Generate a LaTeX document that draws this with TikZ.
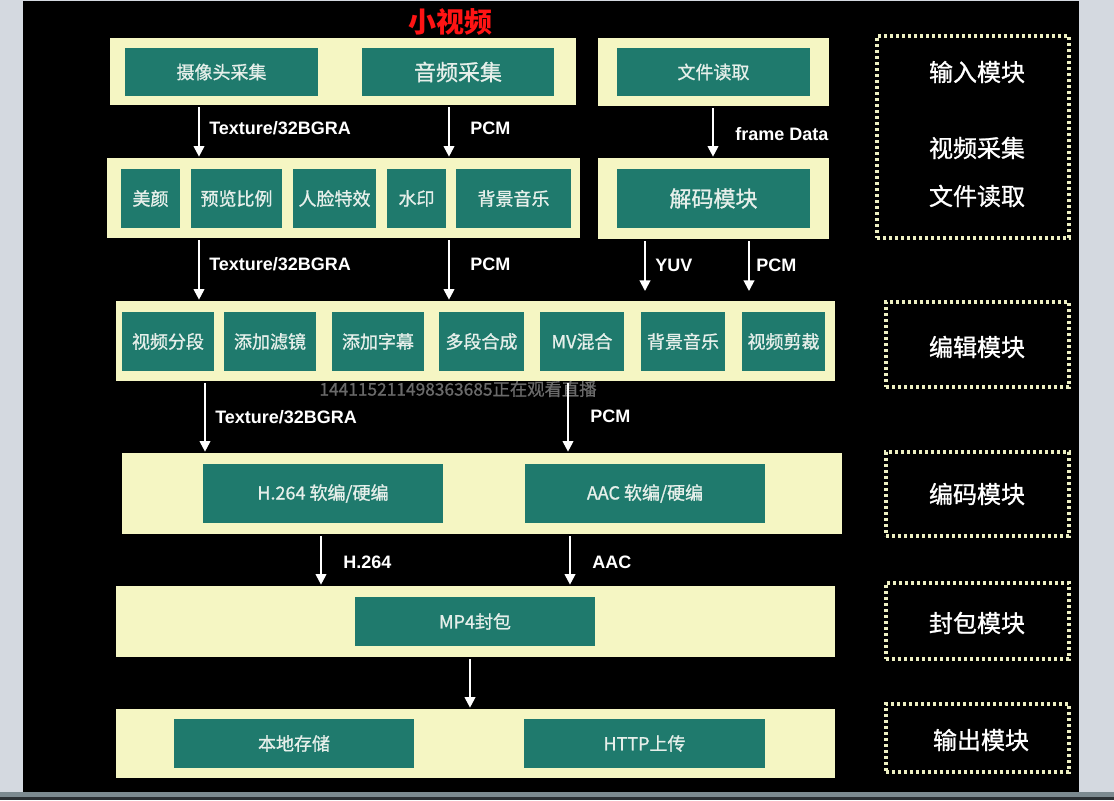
\documentclass[tikz,border=0pt]{standalone}
\usepackage{fontspec}
\setmainfont{Noto Sans CJK SC}
\newfontfamily\cjkm{Noto Sans CJK SC}[FakeBold=1]
\newfontfamily\lab{Liberation Sans}
\usetikzlibrary{arrows.meta}
\definecolor{ycol}{HTML}{F5F6C3}
\definecolor{tcol}{HTML}{1F7A6D}
\definecolor{txcol}{HTML}{E6EFEA}
\definecolor{dotcol}{HTML}{EDEFC2}
\definecolor{gside}{HTML}{D4D9E0}
\definecolor{gbot}{HTML}{7C8A90}
\definecolor{gbotd}{HTML}{2B3034}
\definecolor{ovcol}{HTML}{6A6A6A}
\definecolor{redt}{HTML}{FF1414}
\newcommand\mybox[7]{\node[#2, minimum width={(#5-#3)*0.75pt}, minimum height={(#6-#4)*0.75pt}] (#1) at ({(#3+#5)/2},{(#4+#6)/2}) {#7};}
\tikzset{
  outerbox/.style={fill=ycol, inner sep=0pt, outer sep=0pt},
  innerbox/.style={fill=tcol, text=txcol, inner sep=0pt, outer sep=0pt, font=\cjkm\fontsize{13.5}{16}\selectfont},
  bigtext/.style={font=\cjkm\fontsize{16.5}{19}\selectfont},
  modbox/.style={draw=dotcol, line width=2.4pt, dash pattern=on 2.4pt off 2.1pt, inner sep=0pt, outer sep=0pt},
  modtext/.style={text=white, inner sep=0pt, font=\cjkm\fontsize{18}{21}\selectfont},
  arr/.style={draw=white, line width=1.5pt, -{Triangle[width=8pt,length=8pt]}, shorten <=1.5pt, shorten >=1pt},
  lbl/.style={text=white, anchor=west, inner sep=0pt, font=\lab\bfseries\fontsize{13.5}{16}\selectfont},
  titlef/.style={inner sep=0pt, font=\bfseries\fontsize{21}{24}\selectfont}
}
\begin{document}
\begin{tikzpicture}[x=0.75pt,y=-0.75pt]
\useasboundingbox (0,0) rectangle (1114,800);
% screen background
\fill[gside] (0,0) rectangle (1114,800);
\fill[black] (23,1) rectangle (1079,792);
\fill[gbot] (0,792) rectangle (1114,797);
\fill[gbotd] (0,797) rectangle (1114,800);

% title
\node[titlef, text=redt] (title) at (450,22) {小视频};

% row 1
\mybox{A1}{outerbox}{110}{38}{576}{105}{}
\mybox{cam}{innerbox}{125}{48}{318}{96}{摄像头采集}
\mybox{aud}{innerbox,bigtext}{362}{48}{554}{96}{音频采集}
\mybox{B1}{outerbox}{598}{38}{829}{106}{}
\mybox{file}{innerbox}{617}{48}{810}{96}{文件读取}

% row 2
\mybox{A2}{outerbox}{107}{158}{580}{238}{}
\mybox{mei}{innerbox}{121}{169}{180}{228}{美颜}
\mybox{yul}{innerbox}{191}{169}{282}{228}{预览比例}
\mybox{rl}{innerbox}{293}{169}{376}{228}{人脸特效}
\mybox{sy}{innerbox}{387}{169}{446}{228}{水印}
\mybox{bj}{innerbox}{456}{169}{571}{228}{背景音乐}
\mybox{B2}{outerbox}{598}{158}{829}{239}{}
\mybox{dec}{innerbox,bigtext}{617}{169}{810}{228}{解码模块}

% row 3
\mybox{A3}{outerbox}{116}{301}{835}{381}{}
\mybox{e1}{innerbox}{122}{312}{214}{371}{视频分段}
\mybox{e2}{innerbox}{224}{312}{316}{371}{添加滤镜}
\mybox{e3}{innerbox}{332}{312}{424}{371}{添加字幕}
\mybox{e4}{innerbox}{439}{312}{524}{371}{多段合成}
\mybox{e5}{innerbox}{540}{312}{624}{371}{MV混合}
\mybox{e6}{innerbox}{641}{312}{725}{371}{背景音乐}
\mybox{e7}{innerbox}{742}{312}{825}{371}{视频剪裁}
\node[inner sep=0pt, text=ovcol, font=\cjkm\fontsize{13}{15}\selectfont] (overlay) at (458,389) {144115211498363685正在观看直播};

% row 4
\mybox{A4}{outerbox}{122}{453}{842}{534}{}
\mybox{h264}{innerbox}{203}{464}{443}{523}{H.264 软编/硬编}
\mybox{aac}{innerbox}{525}{464}{765}{523}{AAC 软编/硬编}

% row 5
\mybox{A5}{outerbox}{116}{586}{835}{657}{}
\mybox{mp4}{innerbox}{355}{597}{595}{646}{MP4封包}

% row 6
\mybox{A6}{outerbox}{116}{709}{835}{778}{}
\mybox{local}{innerbox}{174}{719}{414}{768}{本地存储}
\mybox{http}{innerbox}{524}{719}{765}{768}{HTTP上传}

% module boxes
\mybox{m1}{modbox}{877}{36}{1069}{238}{}
\node[modtext] (m1a) at (977,72) {输入模块};
\node[modtext] (m1b) at (977,148) {视频采集};
\node[modtext] (m1c) at (977,196) {文件读取};
\mybox{m2}{modbox}{886}{302}{1069}{387}{}
\node[modtext] (m2t) at (977,347) {编辑模块};
\mybox{m3}{modbox}{886}{452}{1069}{536}{}
\node[modtext] (m3t) at (977,494) {编码模块};
\mybox{m4}{modbox}{886}{583}{1069}{659}{}
\node[modtext] (m4t) at (977,623) {封包模块};
\mybox{m5}{modbox}{886}{704}{1069}{772}{}
\node[modtext] (m5t) at (981,740) {输出模块};

% arrow x positions
\coordinate (xa) at (199,0);
\coordinate (xb) at (449,0);
\coordinate (xc) at (713,0);
\coordinate (xd) at (645,0);
\coordinate (xe) at (749,0);
\coordinate (xf) at (205,0);
\coordinate (xg) at (568,0);
\coordinate (xh) at (321,0);
\coordinate (xi) at (570,0);
\coordinate (xj) at (470,0);

\draw[arr] (A1.south -| xa) -- (A2.north -| xa);
\draw[arr] (A1.south -| xb) -- (A2.north -| xb);
\draw[arr] (B1.south -| xc) -- (B2.north -| xc);
\draw[arr] (A2.south -| xa) -- (A3.north -| xa);
\draw[arr] (A2.south -| xb) -- (A3.north -| xb);
\draw[arr, shorten >=7.5pt] (B2.south -| xd) -- (A3.north -| xd);
\draw[arr, shorten >=7.5pt] (B2.south -| xe) -- (A3.north -| xe);
\draw[arr] (A3.south -| xf) -- (A4.north -| xf);
\draw[arr] (A3.south -| xg) -- (A4.north -| xg);
\draw[arr] (A4.south -| xh) -- (A5.north -| xh);
\draw[arr] (A4.south -| xi) -- (A5.north -| xi);
\draw[arr] (A5.south -| xj) -- (A6.north -| xj);

% labels
\node[lbl] (l1) at (209,128) {Texture/32BGRA};
\node[lbl] (l2) at (470,128) {PCM};
\node[lbl] (l3) at (735,134) {frame Data};
\node[lbl] (l4) at (209,264) {Texture/32BGRA};
\node[lbl] (l5) at (470,264) {PCM};
\node[lbl] (l6) at (655,265) {YUV};
\node[lbl] (l7) at (756,265) {PCM};
\node[lbl] (l8) at (215,417) {Texture/32BGRA};
\node[lbl] (l9) at (590,416) {PCM};
\node[lbl] (l10) at (343,562) {H.264};
\node[lbl] (l11) at (592,562) {AAC};
\end{tikzpicture}
\end{document}
